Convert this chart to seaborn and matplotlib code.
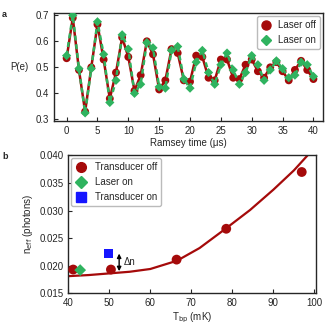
import numpy as np
import pandas as pd
import matplotlib
matplotlib.use("Agg")
import matplotlib.pyplot as plt
from matplotlib.lines import Line2D
import seaborn as sns

# ---------------- data: panel a ----------------
ramsey_t = list(range(0, 41))
p_laser_off = [0.535, 0.69, 0.49, 0.33, 0.50, 0.665, 0.53, 0.38, 0.48, 0.615,
               0.54, 0.41, 0.47, 0.60, 0.55, 0.415, 0.45, 0.57, 0.555, 0.45,
               0.445, 0.545, 0.54, 0.46, 0.45, 0.53, 0.53, 0.46, 0.455, 0.51,
               0.53, 0.485, 0.46, 0.50, 0.52, 0.485, 0.45, 0.49, 0.525, 0.49,
               0.455]
p_laser_on = [0.545, 0.70, 0.495, 0.325, 0.495, 0.675, 0.55, 0.365, 0.45, 0.625,
              0.57, 0.40, 0.435, 0.595, 0.575, 0.425, 0.42, 0.565, 0.58, 0.455,
              0.42, 0.52, 0.565, 0.48, 0.435, 0.51, 0.555, 0.49, 0.435, 0.48,
              0.545, 0.51, 0.45, 0.49, 0.525, 0.495, 0.46, 0.47, 0.52, 0.51,
              0.465]

# ---------------- data: panel b ----------------
t_off = [41.2, 50.4, 66.4, 78.5, 96.9]
n_off = [0.0193, 0.0193, 0.0211, 0.0267, 0.0370]
n_off_err = [0.0008, 0.0006, 0.0006, 0.0008, 0.0008]
t_laser_on = [42.9]
n_laser_on = [0.0192]
n_laser_on_err = [0.0008]
t_trans_on = [49.8]
n_trans_on = [0.0222]
# fit curve
t_fit = [40, 45, 50, 55, 60, 66.5, 72, 78.5, 84.3, 90, 95, 98.3]
n_fit = [0.0181, 0.0183, 0.0186, 0.0189, 0.0194, 0.0209, 0.0232, 0.0268,
         0.0301, 0.0338, 0.0373, 0.0400]

RED = "#a50a0a"
GREEN = "#2fb35f"
BLUE = "#1515ff"

sns.set_style("ticks")
plt.rcParams["font.family"] = ["Liberation Sans", "DejaVu Sans"]
plt.rcParams["font.size"] = 7
plt.rcParams["axes.linewidth"] = 1.0
plt.rcParams["xtick.direction"] = "in"
plt.rcParams["ytick.direction"] = "in"
plt.rcParams["xtick.major.size"] = 3
plt.rcParams["ytick.major.size"] = 3
plt.rcParams["xtick.labelsize"] = 7
plt.rcParams["ytick.labelsize"] = 7
plt.rcParams["mathtext.default"] = "regular"

fig = plt.figure(figsize=(3.33, 3.28), dpi=100)
ax1 = fig.add_axes([0.163, 0.632, 0.806, 0.327])
ax2 = fig.add_axes([0.205, 0.106, 0.743, 0.420])

# ---------- panel a ----------
dfa = pd.DataFrame({"t": ramsey_t, "off": p_laser_off, "on": p_laser_on})
sns.lineplot(data=dfa, x="t", y="off", ax=ax1, color=RED, lw=1.8, zorder=2)
sns.scatterplot(data=dfa, x="t", y="off", ax=ax1, color=RED, marker="o",
                s=32, edgecolor="none", zorder=3)
sns.scatterplot(data=dfa, x="t", y="on", ax=ax1, color=GREEN, marker="D",
                s=22, edgecolor="none", zorder=4)
sns.lineplot(data=dfa, x="t", y="on", ax=ax1, color=GREEN, lw=1.8,
             linestyle=(0, (2.0, 1.5)), zorder=5)
ax1.set_xlim(-2.0, 41.5)
ax1.set_ylim(0.295, 0.707)
ax1.set_xticks([0, 5, 10, 15, 20, 25, 30, 35, 40])
ax1.set_yticks([0.3, 0.4, 0.5, 0.6, 0.7])
ax1.set_yticklabels(["0.3", "0.4", "0.5", "0.6", "0.7"])
ax1.set_xlabel("Ramsey time (μs)", fontsize=7, labelpad=2)
ax1.set_ylabel("P(e)", fontsize=7, rotation=0, labelpad=12, va="center")
for s in ax1.spines.values():
    s.set_visible(True)
h1 = [Line2D([], [], marker="o", color=RED, ls="none", markersize=6.5),
      Line2D([], [], marker="D", color=GREEN, ls="none", markersize=5.5)]
ax1.legend(h1, ["Laser off", "Laser on"], loc="upper right", fontsize=7,
           frameon=True, framealpha=1, edgecolor="#bbbbbb", fancybox=True,
           handletextpad=0.6, borderpad=0.4, labelspacing=0.5,
           handlelength=1.2, borderaxespad=0.3)

# ---------- panel b ----------
dfit = pd.DataFrame({"T": t_fit, "n": n_fit})
sns.lineplot(data=dfit, x="T", y="n", ax=ax2, color=RED, lw=1.6, zorder=2)
ax2.errorbar(t_off, n_off, yerr=n_off_err, fmt="none", ecolor=RED,
             elinewidth=1.5, capsize=0, zorder=3)
ax2.errorbar(t_laser_on, n_laser_on, yerr=n_laser_on_err, fmt="none",
             ecolor=GREEN, elinewidth=1.5, capsize=0, zorder=3)
dfo = pd.DataFrame({"T": t_off, "n": n_off})
sns.scatterplot(data=dfo, x="T", y="n", ax=ax2, color=RED, marker="o",
                s=50, edgecolor="none", zorder=4)
dlo = pd.DataFrame({"T": t_laser_on, "n": n_laser_on})
sns.scatterplot(data=dlo, x="T", y="n", ax=ax2, color=GREEN, marker="D",
                s=36, edgecolor="none", zorder=5)
dto = pd.DataFrame({"T": t_trans_on, "n": n_trans_on})
sns.scatterplot(data=dto, x="T", y="n", ax=ax2, color=BLUE, marker="s",
                s=50, edgecolor="none", zorder=5)
ax2.annotate("", xy=(52.4, 0.0190), xytext=(52.4, 0.0222),
             arrowprops=dict(arrowstyle="<|-|>", color="black", lw=1.0,
                             mutation_scale=6, shrinkA=0, shrinkB=0))
ax2.text(53.6, 0.0207, "Δn", fontsize=7, va="center", ha="left")
ax2.set_xlim(40, 100.3)
ax2.set_ylim(0.015, 0.040)
ax2.set_xticks([40, 50, 60, 70, 80, 90, 100])
ax2.set_yticks([0.015, 0.020, 0.025, 0.030, 0.035, 0.040])
ax2.set_yticklabels(["0.015", "0.020", "0.025", "0.030", "0.035", "0.040"])
ax2.set_xlabel(r"T$_{\rm bp}$ (mK)", fontsize=7, labelpad=2)
ax2.set_ylabel(r"n$_{\rm eff}$ (photons)", fontsize=7, labelpad=3)
for s in ax2.spines.values():
    s.set_visible(True)
h2 = [Line2D([], [], marker="D", color=GREEN, ls="none", markersize=6),
      Line2D([], [], marker="s", color=BLUE, ls="none", markersize=6.5)]
eb = ax2.errorbar([], [], yerr=[], fmt="o", color=RED, markersize=7,
                  elinewidth=1.5, capsize=0)
ax2.legend([eb, h2[0], h2[1]], ["Transducer off", "Laser on", "Transducer on"],
           loc="upper left", fontsize=7, frameon=True, framealpha=1,
           edgecolor="#bbbbbb", fancybox=True, handletextpad=0.8,
           borderpad=0.4, labelspacing=0.5, handlelength=1.2,
           borderaxespad=0.3)

fig.text(0.006, 0.955, "a", fontsize=6.5, fontweight="bold", va="center")
fig.text(0.006, 0.522, "b", fontsize=6.5, fontweight="bold", va="center")

fig.savefig("out.png", dpi=100)
